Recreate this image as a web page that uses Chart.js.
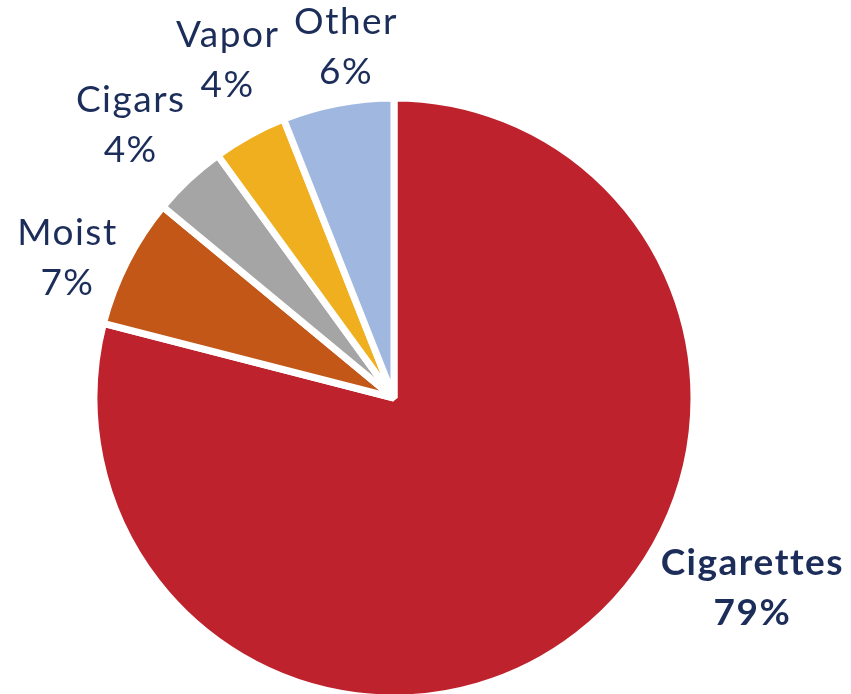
<!DOCTYPE html>
<html>
<head>
<meta charset="utf-8">
<title>Tobacco sales share</title>
<script src="https://cdn.jsdelivr.net/npm/chart.js@4/dist/chart.umd.min.js"></script>
<style>
  html, body { margin: 0; padding: 0; background: #fff; }
  #wrap { width: 851px; height: 694px; position: relative; }
</style>
</head>
<body>
<div id="wrap"><canvas id="pieChart"></canvas></div>
<script>
const categories = ["Cigarettes", "Moist", "Cigars", "Vapor", "Other"];
const shares = [79, 7, 4, 4, 6];
const sliceColors = ["#BE222C", "#C25717", "#A5A5A5", "#EFAF1F", "#A0B8E0"];

// where each label block sits: angle clockwise from 12 o'clock, distance in radii
const labelPlacement = [
  { angle: 118, dist: 1.35, bold: true },
  { angle: 293.2, dist: 1.187 },
  { angle: 316, dist: 1.267 },
  { angle: 333.7, dist: 1.257 },
  { angle: 352.1, dist: 1.18 }
];

const TEXT_COLOR = "#1C2D5A";

const outsideLabels = {
  id: "outsideLabels",
  afterDatasetsDraw(chart) {
    const ctx = chart.ctx;
    const meta = chart.getDatasetMeta(0);
    ctx.save();
    ctx.fillStyle = TEXT_COLOR;
    ctx.textAlign = "center";
    ctx.textBaseline = "middle";
    ctx.letterSpacing = "1.5px";
    meta.data.forEach((arc, i) => {
      const p = labelPlacement[i];
      const a = p.angle * Math.PI / 180;
      const r = arc.outerRadius * p.dist;
      // letterSpacing pads the end of the string, shift back by half of it
      const x = arc.x + r * Math.sin(a) + 0.75;
      const y = arc.y - r * Math.cos(a);
      ctx.font = (p.bold ? "bold " : "") + "37px Lato, 'Open Sans', sans-serif";
      ctx.fillText(categories[i], x, y - 25);
      ctx.fillText(shares[i] + "%", x, y + 25);
    });
    ctx.restore();
  }
};

new Chart(document.getElementById("pieChart"), {
  type: "pie",
  data: {
    labels: categories,
    datasets: [{
      data: shares,
      backgroundColor: sliceColors,
      borderColor: "#ffffff",
      borderWidth: 7,
      hoverOffset: 0
    }]
  },
  options: {
    responsive: true,
    maintainAspectRatio: false,
    animation: false,
    radius: 300,
    layout: { padding: { top: 102, right: 63, left: 0, bottom: 0 } },
    plugins: {
      legend: { display: false },
      tooltip: { enabled: false }
    }
  },
  plugins: [outsideLabels]
});
</script>
</body>
</html>
